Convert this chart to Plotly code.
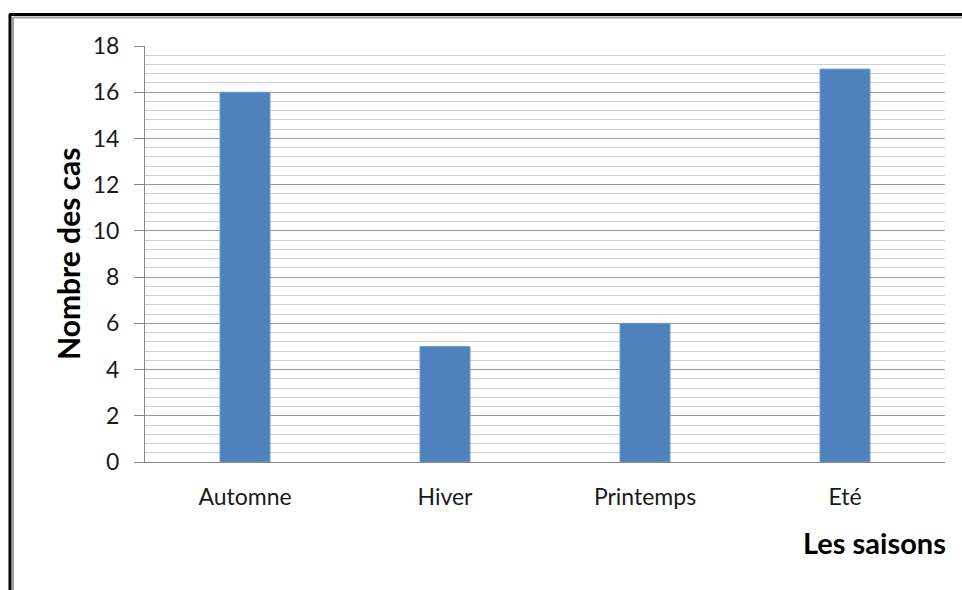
import plotly.graph_objects as go

categories = ["Automne", "Hiver", "Printemps", "Eté"]
values = [16, 5, 6, 17]
y_ticks = [0, 2, 4, 6, 8, 10, 12, 14, 16, 18]

W, H = 962, 590
L, R, T, B = 145, 17, 46, 128
pw, ph = W - L - R, H - T - B

def px(x):
    return (x - L) / pw

def py(y):
    return (H - B - y) / ph

fig = go.Figure(go.Bar(x=categories, y=values, marker=dict(color="#4F81BD", line=dict(color="#6f9bd0", width=1)), width=0.25))

font = "Lato, Calibri, 'Open Sans', sans-serif"
fig.update_layout(
    width=W, height=H, margin=dict(l=L, r=R, t=T, b=B),
    paper_bgcolor="white", plot_bgcolor="white", showlegend=False,
    font=dict(family=font, size=23, color="#1a1a1a"),
    xaxis=dict(showgrid=False, showline=True, linecolor="#868686", linewidth=1,
               ticks="", tickfont=dict(size=23, color="#1a1a1a"), ticklabelstandoff=14),
    yaxis=dict(range=[0, 18], tickvals=y_ticks, showline=True, linecolor="#868686", linewidth=1,
               ticks="outside", ticklen=10, tickcolor="#868686", ticklabelstandoff=10,
               showgrid=True, gridcolor="#9a9a9a", gridwidth=1,
               minor=dict(dtick=0.4, showgrid=True, gridcolor="#d0d0d0", gridwidth=1, ticks=""),
               tickfont=dict(size=23, color="#1a1a1a"), zeroline=False),
    shapes=[
        dict(type="line", xref="paper", yref="paper", x0=px(13), x1=px(13), y0=py(17), y1=py(600), line=dict(color="#a0a0a0", width=2)),
        dict(type="line", xref="paper", yref="paper", x0=px(13), x1=px(970), y0=py(17.5), y1=py(17.5), line=dict(color="#a0a0a0", width=2)),
        dict(type="line", xref="paper", yref="paper", x0=px(10), x1=px(10), y0=py(14), y1=py(600), line=dict(color="black", width=3)),
        dict(type="line", xref="paper", yref="paper", x0=px(9), x1=px(970), y0=py(14.5), y1=py(14.5), line=dict(color="black", width=3)),
    ],
    annotations=[
        dict(text="<b>Nombre des cas</b>", xref="paper", yref="paper", x=px(68), y=py(254), textangle=-90,
             showarrow=False, font=dict(size=30, color="black"), xanchor="center", yanchor="middle"),
        dict(text="<b>Les saisons</b>", xref="paper", yref="paper", x=px(948), y=py(542),
             showarrow=False, font=dict(size=29, color="black"), xanchor="right", yanchor="middle"),
    ],
)

fig.write_html("out.html")
